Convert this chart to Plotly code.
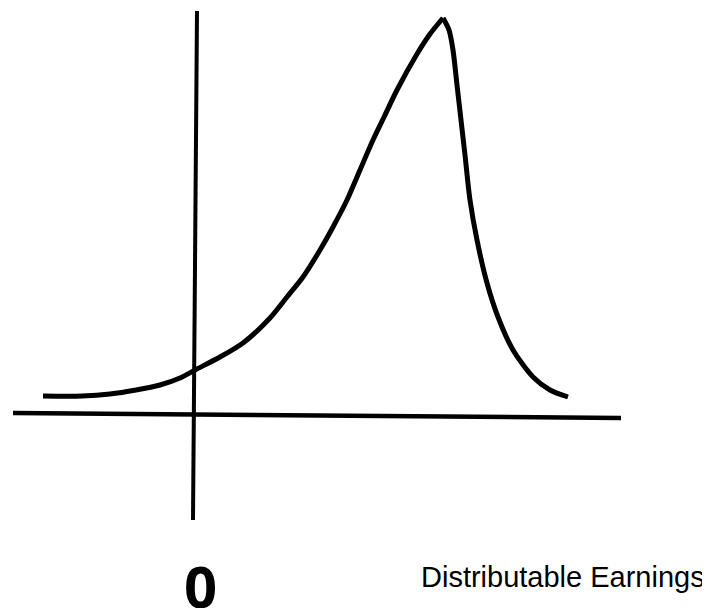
import plotly.graph_objects as go

# Curve (arbitrary units; 0 at the axes crossing)
earnings = [-152, -113, -85, -59, -35, -15, 0, 25, 48, 75, 92, 108, 125, 138, 152,
            165, 178, 190, 202, 222, 235, 248, 254, 258, 262, 266, 270, 275, 282,
            292, 303, 318, 338, 355, 373]
density = [19, 19, 21, 25, 30, 37, 45, 58, 72, 97, 118, 138, 165, 188, 215,
           245, 275, 300, 325, 361, 381, 397, 385, 365, 330, 295, 260, 215, 175,
           132, 98, 65, 38, 25, 18]

# Hand-drawn axes (slightly tilted)
h_axis_x = [-182, 426]
h_axis_y = [2, -3]
v_axis_x = [2, -2]
v_axis_y = [404, -105]

zero_label = "0"
x_label = "Distributable Earnings"

# split at the sharp peak so it stays a cusp
peak = density.index(max(density))

fig = go.Figure()
fig.add_trace(go.Scatter(x=h_axis_x, y=h_axis_y, mode="lines",
                         line=dict(color="black", width=4.5), hoverinfo="skip"))
fig.add_trace(go.Scatter(x=v_axis_x, y=v_axis_y, mode="lines",
                         line=dict(color="black", width=4), hoverinfo="skip"))
fig.add_trace(go.Scatter(x=earnings[:peak + 1], y=density[:peak + 1], mode="lines",
                         line=dict(color="black", width=5, shape="spline", smoothing=0.8),
                         hoverinfo="skip"))
fig.add_trace(go.Scatter(x=earnings[peak:], y=density[peak:], mode="lines",
                         line=dict(color="black", width=5, shape="spline", smoothing=0.8),
                         hoverinfo="skip"))

fig.add_annotation(x=5, y=-170,
                   text='<span style="font-stretch:condensed">' + zero_label + '</span>',
                   showarrow=False, xanchor="center", yanchor="middle",
                   font=dict(family="Noto Sans Condensed, Noto Sans, Liberation Sans",
                             size=58, color="black", weight="bold"))
fig.add_annotation(x=511.5, y=-162, text=x_label, showarrow=False,
                   xanchor="right", yanchor="middle",
                   font=dict(family="Liberation Sans, Arial", size=29, color="black"))

# The page body adds an 8 px offset, so the figure is 702x600 and ranges are shifted
fig.update_layout(
    width=702, height=600,
    margin=dict(l=0, r=0, t=0, b=0),
    paper_bgcolor="white", plot_bgcolor="white",
    showlegend=False,
    xaxis=dict(range=[-187, 515], visible=False, fixedrange=True),
    yaxis=dict(range=[-193, 407], visible=False, fixedrange=True),
)

fig.write_html("out.html")
